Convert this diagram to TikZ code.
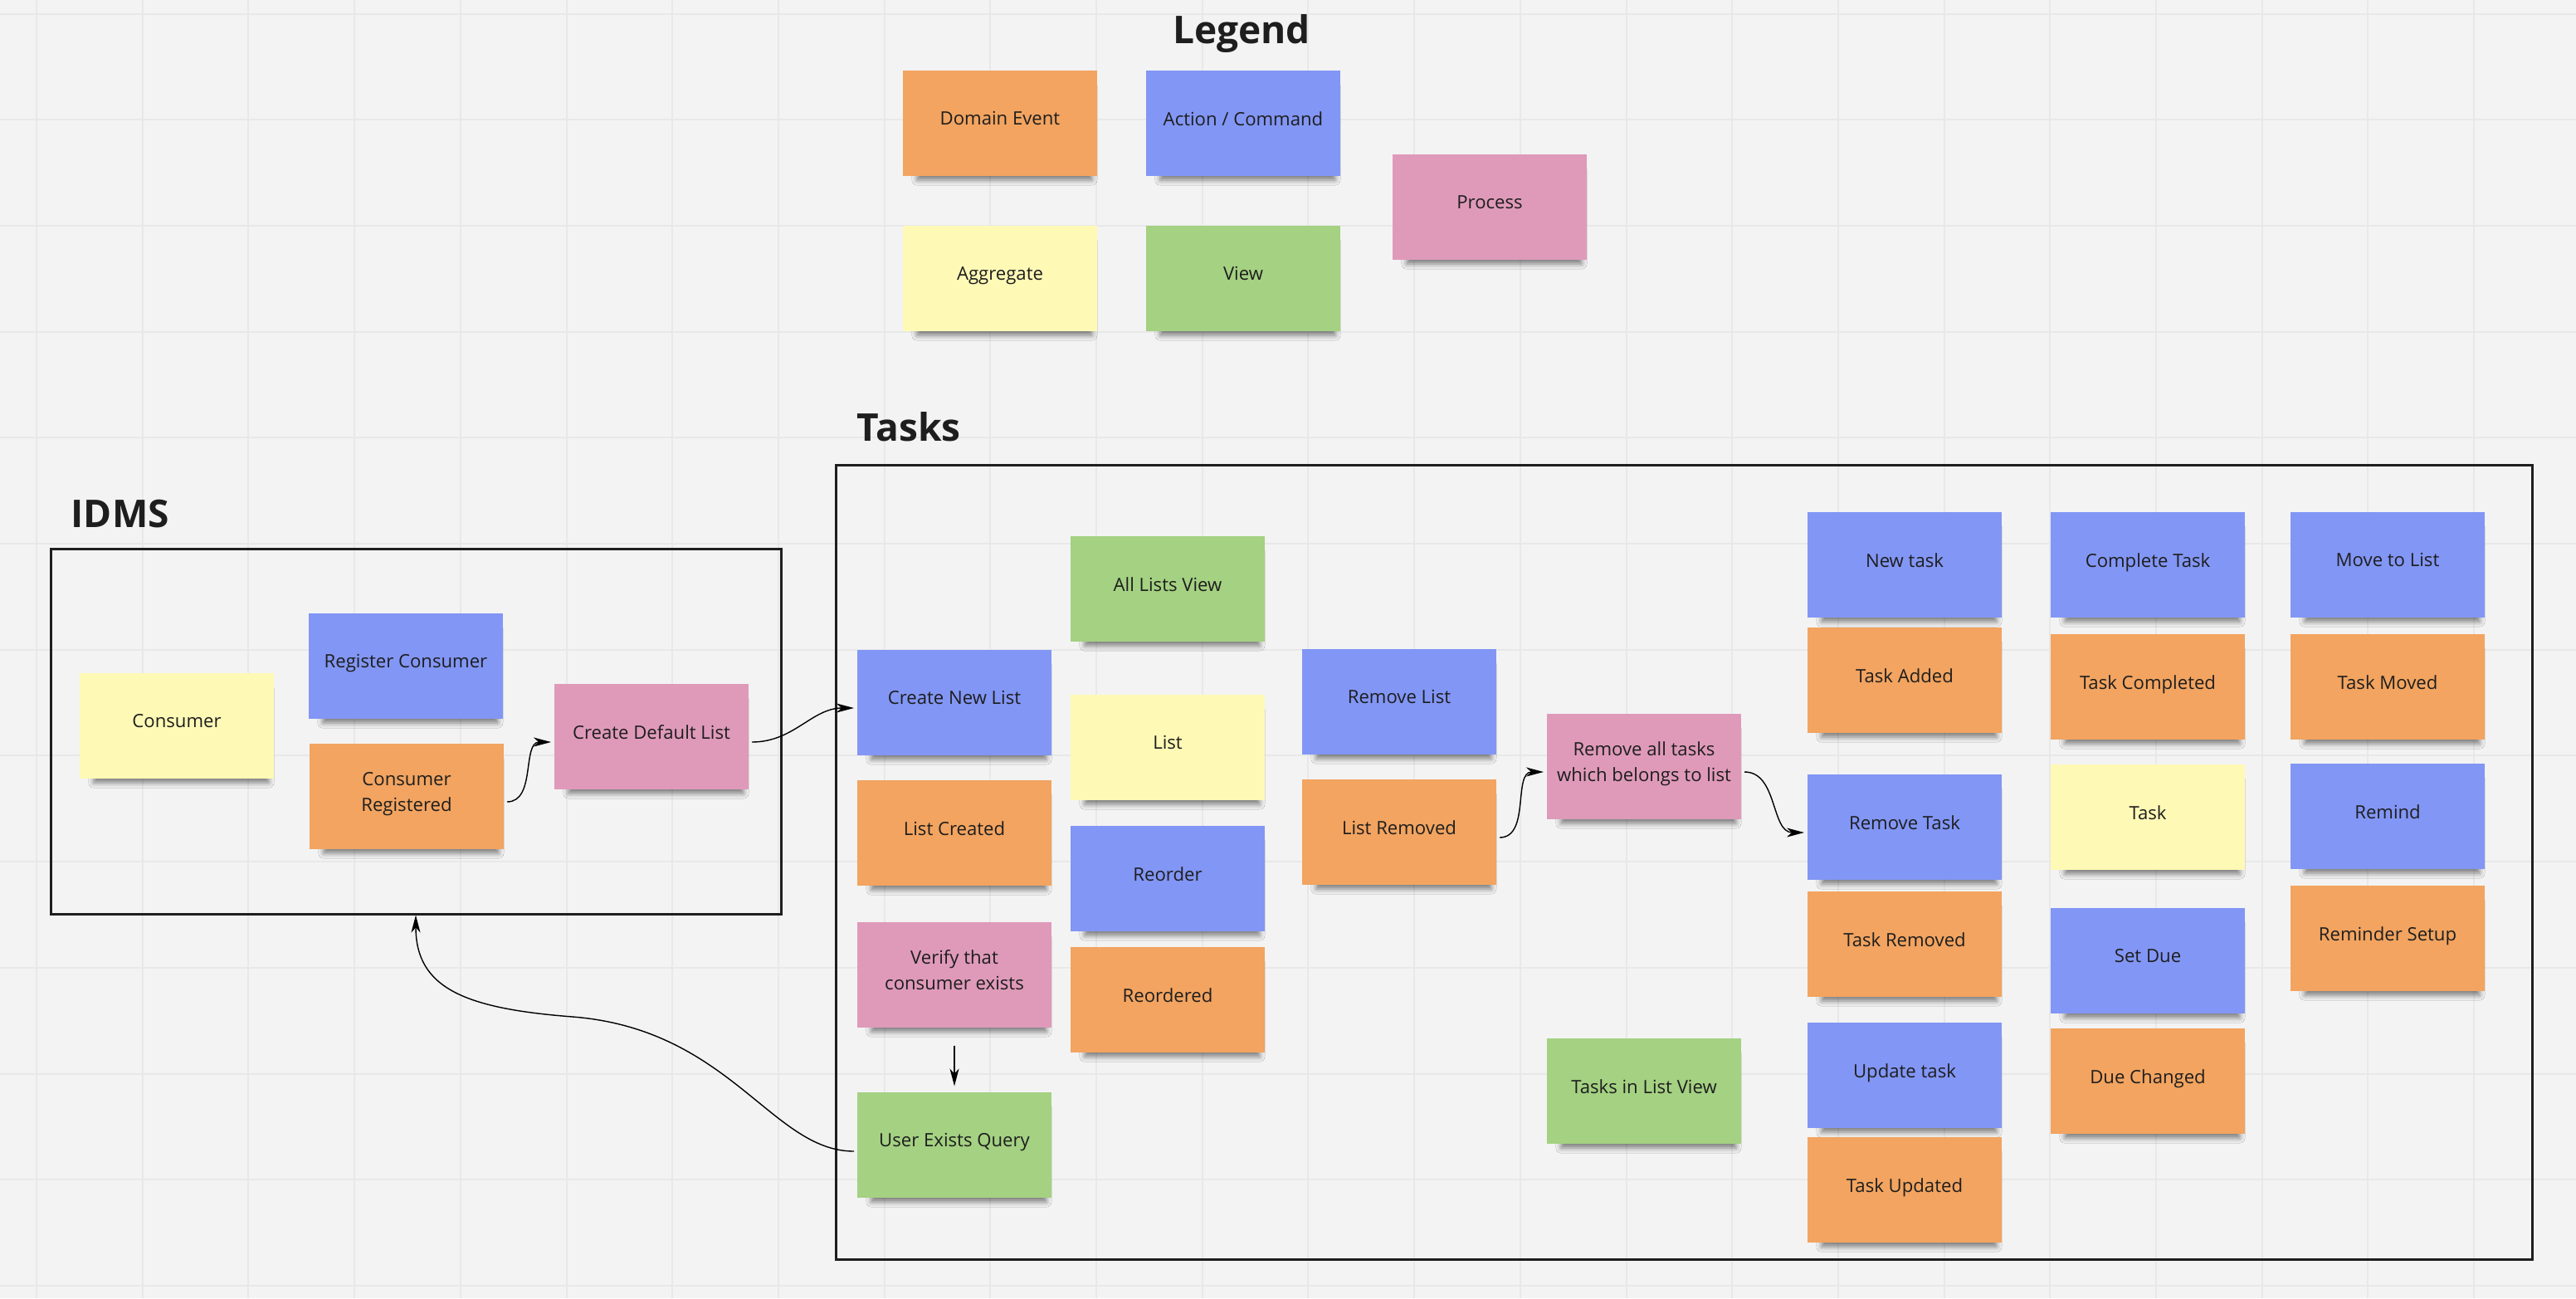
\documentclass[tikz,border=0pt]{standalone}
\usepackage{fontspec}
\setmainfont{Open Sans}
\usepackage{tikz}
\usetikzlibrary{arrows.meta, shadows.blur}
\usepackage{xcolor}
\definecolor{board}{RGB}{243,243,243}
\definecolor{gridline}{RGB}{232,232,232}
\definecolor{ink}{RGB}{30,30,30}
\definecolor{evorange}{RGB}{242,164,96}
\definecolor{cmdblue}{RGB}{130,150,245}
\definecolor{procpink}{RGB}{223,154,186}
\definecolor{aggyellow}{RGB}{255,249,182}
\definecolor{viewgreen}{RGB}{164,209,130}

\begin{document}
\begin{tikzpicture}[x=1cm, y=-1cm,
  note/.style={minimum width=2.34cm, minimum height=1.27cm, inner sep=0pt, outer sep=0.4mm,
    align=center, text=ink, font=\fontsize{6.3}{8.7}\selectfont, text depth=1.05mm,
    blur shadow={shadow xshift=0.6mm, shadow yshift=-1.3mm, shadow scale=0.9,
      shadow blur radius=0.7mm, shadow opacity=50}},
  evnote/.style={note, fill=evorange},
  cmdnote/.style={note, fill=cmdblue},
  procnote/.style={note, fill=procpink},
  aggnote/.style={note, fill=aggyellow},
  viewnote/.style={note, fill=viewgreen},
  heading/.style={font=\fontsize{13.1}{15}\selectfont\bfseries, text=ink, inner sep=0pt},
  ctxbox/.style={draw=ink, line width=0.3mm, inner sep=0pt},
  flow/.style={draw=black, line width=0.4pt, -{Stealth[length=2.1mm, width=1.1mm, inset=0.6mm]}},
  lowflow/.style={flow, transform canvas={yshift=-0.7mm}}
]
  % Board and grid
  \fill[board] (0,0) rectangle (31.04,15.64);
  \useasboundingbox (0,0) rectangle (31.04,15.64);
  \foreach \i in {0,...,23}
    \draw[gridline, line width=0.2mm] ({0.44+1.277*\i},0) -- ({0.44+1.277*\i},15.64);
  \foreach \j in {0,...,12}
    \draw[gridline, line width=0.2mm] (0,{0.165+1.277*\j}) -- (31.04,{0.165+1.277*\j});

  % Legend
  \node[heading, anchor=base] (legendTitle) at (14.96, 0.52) {Legend};
  \node[evnote] (legEvent) at (12.05, 1.48) {Domain Event};
  \node[cmdnote] (legCmd) at (14.98, 1.48) {Action / Command};
  \node[procnote] (legProc) at (17.95, 2.49) {Process};
  \node[aggnote] (legAgg) at (12.05, 3.35) {Aggregate};
  \node[viewnote] (legView) at (14.98, 3.35) {View};

  % IDMS
  \node[heading, anchor=base west] (idmsTitle) at (0.85, 6.35) {IDMS};
  \node[ctxbox, minimum width=8.80cm, minimum height=4.40cm] (idms) at (5.01, 8.81) {};
  \node[aggnote] (consumer) at (2.13, 8.74) {Consumer};
  \node[cmdnote] (regCons) at (4.89, 8.02) {Register Consumer};
  \node[evnote] (consReg) at (4.90, 9.59) {Consumer\\Registered};
  \node[procnote] (createDef) at (7.85, 8.87) {Create Default List};

  % Tasks
  \node[heading, anchor=base west] (tasksTitle) at (10.32, 5.31) {Tasks};
  \node[ctxbox, minimum width=20.44cm, minimum height=9.57cm] (tasks) at (20.29, 10.385) {};

  \node[cmdnote] (createNew) at (11.50, 8.46) {Create New List};
  \node[evnote] (listCreated) at (11.50, 10.03) {List Created};
  \node[procnote] (verify) at (11.50, 11.74) {Verify that\\consumer exists};
  \node[viewnote] (userQ) at (11.50, 13.79) {User Exists Query};

  \node[viewnote] (allLists) at (14.07, 7.09) {All Lists View};
  \node[aggnote] (list) at (14.07, 9.00) {List};
  \node[cmdnote] (reorder) at (14.07, 10.58) {Reorder};
  \node[evnote] (reordered) at (14.07, 12.04) {Reordered};

  \node[cmdnote] (removeList) at (16.86, 8.45) {Remove List};
  \node[evnote] (listRemoved) at (16.86, 10.02) {List Removed};

  \node[procnote] (removeAll) at (19.81, 9.23) {Remove all tasks\\which belongs to list};
  \node[viewnote] (tasksView) at (19.81, 13.14) {Tasks in List View};

  \node[cmdnote] (newTask) at (22.95, 6.80) {New task};
  \node[evnote] (taskAdded) at (22.95, 8.19) {Task Added};
  \node[cmdnote] (removeTask) at (22.95, 9.96) {Remove Task};
  \node[evnote] (taskRemoved) at (22.95, 11.37) {Task Removed};
  \node[cmdnote] (updateTask) at (22.95, 12.95) {Update task};
  \node[evnote] (taskUpdated) at (22.95, 14.33) {Task Updated};

  \node[cmdnote] (completeTask) at (25.88, 6.80) {Complete Task};
  \node[evnote] (taskCompleted) at (25.88, 8.27) {Task Completed};
  \node[aggnote] (task) at (25.88, 9.84) {Task};
  \node[cmdnote] (setDue) at (25.88, 11.57) {Set Due};
  \node[evnote] (dueChanged) at (25.88, 13.02) {Due Changed};

  \node[cmdnote] (moveList) at (28.77, 6.80) {Move to List};
  \node[evnote] (taskMoved) at (28.77, 8.27) {Task Moved};
  \node[cmdnote] (remind) at (28.77, 9.83) {Remind};
  \node[evnote] (reminderSetup) at (28.77, 11.30) {Reminder Setup};

  % Flows
  \draw[lowflow] (consReg.east) to[out=0, in=180] (createDef.west);
  \draw[lowflow] (createDef.east) to[out=0, in=180] (createNew.west);
  \draw[lowflow] (listRemoved.east) to[out=0, in=180] (removeAll.west);
  \draw[lowflow] (removeAll.east) to[out=0, in=180] (removeTask.west);
  \draw[flow, shorten <=1.8mm, shorten >=0.3mm] (verify.south) -- (userQ.north);

  % Query back to IDMS
  \coordinate (bend) at (6.90, 12.25);
  \draw[flow] ([yshift=-0.8mm]userQ.west) .. controls +(-0.99,0) and +(1.90,0.15) .. (bend)
    .. controls +(-1.30,-0.10) and +(0,0.88) .. (idms.south);
\end{tikzpicture}
\end{document}
